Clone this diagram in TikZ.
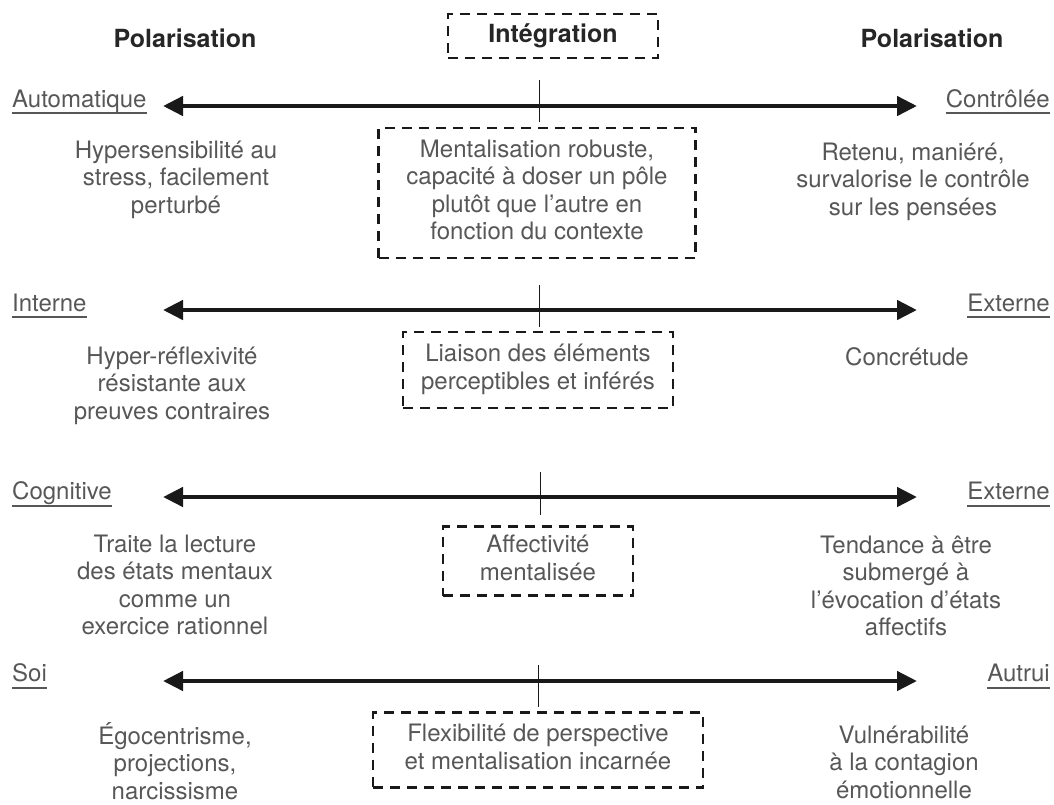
\documentclass[tikz,border=0pt]{standalone}
\usepackage{fontspec}
\setmainfont{TeX Gyre Heros}
\usetikzlibrary{arrows.meta}
\definecolor{inktext}{gray}{0.34}
\definecolor{inkhead}{gray}{0.15}
\definecolor{inkline}{gray}{0.10}
% centred block of lines with a fixed line pitch
\newcommand{\stack}[1]{\begin{tabular}{@{}c@{}}#1\end{tabular}}
\tikzset{
  body/.style={font=\fontsize{24}{27.5}\selectfont, text=inktext, inner sep=0pt},
  head/.style={font=\fontsize{25}{28}\selectfont\bfseries, text=inkhead, inner sep=0pt},
  pole/.style={font=\fontsize{24}{27.5}\selectfont, text=inktext, inner sep=0pt},
  dashbox/.style={draw=inkline, line width=2.6pt, dash pattern=on 10pt off 7pt, inner sep=0pt},
  axis/.style={draw=inkline, line width=4.5pt,
    {Triangle[length=20pt,width=19pt]}-{Triangle[length=20pt,width=19pt]}},
  tickmark/.style={draw=inkline, line width=1pt},
  uline/.style={draw=inktext, line width=1.8pt},
}
\begin{document}
\begin{tikzpicture}[x=1pt,y=-1pt]
\useasboundingbox (0,0) rectangle (1054,804);

% column headings
\node[head] (hl) at (185,38) {Polarisation};
\node[head] (hr) at (932,38) {Polarisation};
\node[head, dashbox, minimum width=210pt, minimum height=44pt] (hc) at (553,36) {Intégration};

% ---- axis 1 : automatique / contrôlée
\coordinate (a1l) at (163,106);
\coordinate (a1r) at (917,106);
\draw[axis] (a1l) -- (a1r);
\coordinate (k1t) at (539,80);
\coordinate (k1b) at (539,122);
\draw[tickmark] (k1t) -- (k1b);
\node[pole, anchor=base west] (p1l) at (12,107) {Automatique};
\node[pole, anchor=base east] (p1r) at (1050,107) {Contrôlée};
\draw[uline] ([yshift=-6pt]p1l.base west) -- ([yshift=-6pt]p1l.base east);
\draw[uline] ([yshift=-6pt]p1r.base west) -- ([yshift=-6pt]p1r.base east);
\node[body] (t1l) at (176,180) {\stack{Hypersensibilité au\\stress, facilement\\perturbé}};
\node[body, dashbox, minimum width=317pt, minimum height=130pt] (b1) at (537,193)
  {\stack{Mentalisation robuste,\\capacité à doser un pôle\\plutôt que l’autre en\\fonction du contexte}};
\node[body] (t1r) at (913,182) {\stack{Retenu, maniéré,\\survalorise le contrôle\\sur les pensées}};

% ---- axis 2 : interne / externe
\coordinate (a2l) at (163,310);
\coordinate (a2r) at (917,310);
\draw[axis] (a2l) -- (a2r);
\coordinate (k2t) at (539,285);
\coordinate (k2b) at (539,327);
\draw[tickmark] (k2t) -- (k2b);
\node[pole, anchor=base west] (p2l) at (12,311) {Interne};
\node[pole, anchor=base east] (p2r) at (1050,311) {Externe};
\draw[uline] ([yshift=-6pt]p2l.base west) -- ([yshift=-6pt]p2l.base east);
\draw[uline] ([yshift=-6pt]p2r.base west) -- ([yshift=-6pt]p2r.base east);
\node[body] (t2l) at (172,386) {\stack{Hyper-réflexivité\\résistante aux\\preuves contraires}};
\node[body, dashbox, minimum width=270pt, minimum height=76pt] (b2) at (538,370)
  {\stack{Liaison des éléments\\perceptibles et inférés}};
\node[body] (t2r) at (907,357) {Concrétude};

% ---- axis 3 : cognitive / externe
\coordinate (a3l) at (163,497);
\coordinate (a3r) at (917,497);
\draw[axis] (a3l) -- (a3r);
\coordinate (k3t) at (540,472);
\coordinate (k3b) at (540,515);
\draw[tickmark] (k3t) -- (k3b);
\node[pole, anchor=base west] (p3l) at (12,499) {Cognitive};
\node[pole, anchor=base east] (p3r) at (1050,499) {Externe};
\draw[uline] ([yshift=-7pt]p3l.base west) -- ([yshift=-7pt]p3l.base east);
\draw[uline] ([yshift=-7pt]p3r.base west) -- ([yshift=-7pt]p3r.base east);
\node[body] (t3l) at (175,588) {\stack{Traite la lecture\\des états mentaux\\comme un\\exercice rationnel}};
\node[body, dashbox, minimum width=190pt, minimum height=69pt] (b3) at (538,561)
  {\stack{Affectivité\\mentalisée}};
\node[body] (t3r) at (906,589) {\stack{Tendance à être\\submergé à\\l’évocation d’états\\affectifs}};

% ---- axis 4 : soi / autrui
\coordinate (a4l) at (163,681);
\coordinate (a4r) at (917,681);
\draw[axis] (a4l) -- (a4r);
\coordinate (k4t) at (538,665);
\coordinate (k4b) at (538,707);
\draw[tickmark] (k4t) -- (k4b);
\node[pole, anchor=base west] (p4l) at (12,681) {Soi};
\node[pole, anchor=base east] (p4r) at (1050,681) {Autrui};
\draw[uline] ([yshift=-7pt]p4l.base west) -- ([yshift=-7pt]p4l.base east);
\draw[uline] ([yshift=-7pt]p4r.base west) -- ([yshift=-7pt]p4r.base east);
\node[body] (t4l) at (175,765) {\stack{Égocentrisme,\\projections,\\narcissisme}};
\node[body, dashbox, minimum width=330pt, minimum height=75pt] (b4) at (538,750)
  {\stack{Flexibilité de perspective\\et mentalisation incarnée}};
\node[body] (t4r) at (904,765) {\stack{Vulnérabilité\\à la contagion\\émotionnelle}};
\end{tikzpicture}
\end{document}
